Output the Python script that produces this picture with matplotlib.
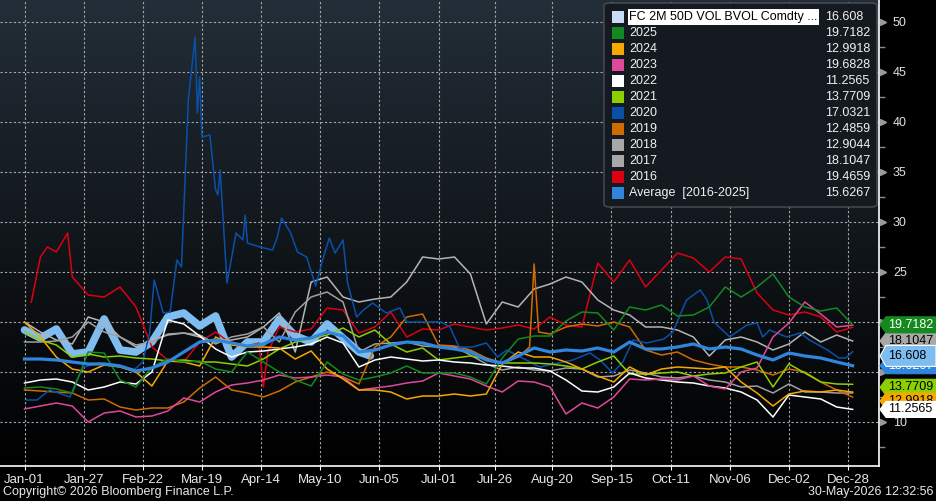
import numpy as np
import matplotlib
matplotlib.use("Agg")
import matplotlib.pyplot as plt
from matplotlib.patches import Rectangle, Polygon, FancyBboxPatch
from matplotlib.colors import LinearSegmentedColormap
from matplotlib.transforms import blended_transform_factory

plt.rcParams['font.family'] = ['Liberation Sans', 'DejaVu Sans']

W, H = 936, 501

# x axis = day of year (leap-year calendar, as on the chart)
days = np.arange(0, 365, 7)
tick_days = [0, 26, 52, 78, 104, 130, 156, 182, 207, 232, 258, 284, 310, 336, 362]
tick_labels = ['Jan-01', 'Jan-27', 'Feb-22', 'Mar-19', 'Apr-14', 'May-10', 'Jun-05', 'Jul-01',
               'Jul-26', 'Aug-20', 'Sep-15', 'Oct-11', 'Nov-06', 'Dec-02', 'Dec-28']
# right axis labels; 15 and 20 sit under the value tags and are not visible
y_ticks = [10, 15, 20, 25, 30, 35, 40, 45, 50]
y_labels = ['10', '', '', '25', '30', '35', '40', '45', '50']

# current year (FC 2M 50D VOL)
current_days = list(range(0, 148, 7)) + [152]
current_vals = [19.2, 18.4, 19.3, 16.8, 17.0, 20.3, 17.2, 17.0, 18.0, 20.5, 20.9, 19.6,
                20.6, 16.5, 18.0, 18.0, 20.3, 18.6, 18.0, 19.8, 18.4, 17.0, 16.608]

v2025 = [13.4, 13.5, 13.3, 12.9, 17.0, 16.9, 14.2, 13.5, 15.5, 16.3,
         16.0, 16.1, 15.3, 15.0, 17.0, 16.0, 15.0, 14.2, 13.6, 16.0,
         14.8, 14.2, 14.5, 14.9, 15.6, 14.9, 14.9, 14.9, 14.5, 13.8,
         16.4, 18.3, 18.6, 18.6, 20.1, 21.0, 20.9, 19.2, 21.5, 21.2,
         21.7, 20.6, 20.7, 21.5, 23.5, 22.5, 23.5, 24.8, 22.5, 21.5,
         21.1, 21.4, 19.72]
v2024 = [20.0, 18.5, 16.5, 15.3, 15.0, 15.7, 15.5, 15.0, 13.6, 16.1,
         16.0, 15.6, 18.5, 17.7, 17.5, 17.5, 17.4, 16.3, 17.1, 15.3,
         14.3, 13.2, 13.2, 13.0, 12.3, 12.6, 12.6, 12.8, 12.6, 12.8,
         15.8, 17.0, 16.5, 16.5, 16.0, 15.3, 14.6, 14.0, 15.5, 14.7,
         15.3, 15.5, 15.4, 15.3, 15.5, 14.0, 12.9, 11.6, 12.8, 13.1,
         13.0, 13.2, 12.99]
v2023 = [11.3, 11.6, 11.9, 11.6, 10.0, 10.9, 11.1, 10.5, 10.6, 11.1,
         12.4, 12.0, 13.0, 13.7, 13.9, 14.2, 14.7, 14.4, 14.5, 14.7,
         14.5, 13.2, 13.4, 13.6, 13.9, 14.1, 14.9, 14.6, 14.3, 13.6,
         13.0, 14.1, 14.0, 13.5, 10.8, 11.9, 11.4, 12.5, 14.3, 14.2,
         14.3, 14.2, 14.6, 13.6, 13.3, 15.0, 15.4, 18.5, 19.9, 22.0,
         20.8, 19.5, 19.68]
v2022 = [13.9, 14.2, 14.3, 14.0, 13.2, 13.5, 14.0, 13.8, 15.0, 20.2,
         19.8, 18.6, 17.3, 16.5, 17.0, 17.1, 17.3, 17.5, 17.8, 18.5,
         17.9, 15.5, 16.2, 16.5, 16.3, 16.1, 16.2, 16.0, 15.9, 15.7,
         15.6, 15.4, 15.4, 15.1, 14.2, 13.1, 13.0, 13.5, 14.9, 14.4,
         14.2, 14.0, 13.9, 13.6, 13.4, 13.0, 12.2, 10.5, 12.7, 12.5,
         12.3, 11.5, 11.26]
v2021 = [19.0, 18.2, 17.7, 16.5, 16.8, 16.5, 16.6, 16.4, 16.3, 16.1,
         16.2, 16.0, 16.0, 15.8, 15.6, 16.3, 17.3, 18.0, 18.3, 18.7,
         19.4, 18.5, 19.2, 17.8, 17.0, 17.4, 16.2, 16.4, 16.6, 16.3,
         15.9, 15.9, 15.9, 15.8, 15.6, 15.3, 16.0, 16.6, 14.8, 14.8,
         14.9, 15.0, 14.6, 14.8, 14.9, 15.5, 16.0, 13.5, 15.8, 14.9,
         14.0, 13.8, 13.77]

days_2020 = [1, 5.5, 11, 20, 23, 26, 33, 41, 48, 52, 55, 57, 61, 64, 67, 69, 72, 75, 76, 77,
             78, 81.5, 84, 85, 86, 89, 93, 96, 97, 98, 103.5, 109, 111, 113, 117, 120, 124, 128,
             131, 134, 136.5, 140, 142, 146, 149, 153, 159, 165, 168, 177, 183, 187, 191, 197,
             203, 208, 212, 226.5, 241, 248.5, 253, 258.5, 263, 267.5, 273.5, 281, 285, 291,
             297, 300, 303, 310, 317.5, 322, 324.5, 327.5, 335, 341, 345, 353, 358, 361, 364]
v2020 = [12.2, 12.2, 13.2, 12.5, 14.2, 15.5, 15.9, 15.7, 15.2, 16.0, 18.9, 24.2, 20.9, 21.0,
         26.2, 25.5, 42.2, 48.5, 40.9, 44.5, 38.5, 38.7, 33.2, 32.7, 35.2, 23.9, 28.9, 28.2,
         30.7, 27.9, 27.5, 27.2, 28.4, 30.4, 28.9, 27.0, 26.5, 23.6, 26.2, 28.4, 26.9, 28.2,
         23.9, 20.5, 21.2, 21.9, 20.9, 21.4, 20.0, 20.0, 20.0, 19.5, 17.5, 17.5, 17.9, 16.5,
         17.2, 15.5, 16.2, 16.9, 16.2, 14.9, 16.0, 18.2, 17.9, 18.3, 19.0, 22.2, 23.2, 22.2,
         20.0, 18.5, 19.7, 19.9, 18.5, 19.2, 18.5, 18.9, 18.2, 17.2, 16.4, 16.4, 17.03]

days_2019 = np.r_[np.arange(0, 218, 7), [222, 224, 226], np.arange(231, 365, 7)]
v2019 = [13.2, 13.1, 13.0, 12.9, 12.2, 12.3, 11.5, 11.2, 11.4, 11.4,
         12.0, 13.4, 14.5, 13.2, 12.9, 12.5, 13.1, 14.0, 14.5, 15.0,
         14.5, 13.8, 17.5, 18.5, 20.5, 20.8, 17.7, 17.6, 17.2, 16.4,
         15.9, 16.5, 17.5, 25.8, 19.0,
         18.8, 19.5, 19.8, 19.6, 20.0, 19.5, 17.2, 16.7, 17.0, 16.2,
         15.8, 15.5, 15.5, 15.2, 14.7, 15.3, 15.0, 14.0, 13.2, 12.49]

v2018 = [18.0, 18.0, 18.1, 18.5, 20.0, 19.0, 18.5, 17.7, 18.0, 18.8,
         18.9, 18.7, 17.8, 18.5, 18.8, 19.5, 18.0, 21.0, 22.5, 23.0,
         22.0, 17.0, 17.8, 17.9, 18.0, 17.6, 17.5, 17.5, 16.7, 15.8,
         15.2, 15.5, 15.2, 15.1, 15.4, 15.3, 14.5, 14.6, 15.2, 14.9,
         14.5, 14.4, 14.6, 14.2, 14.0, 13.5, 13.6, 12.9, 13.8, 13.0,
         13.0, 12.9, 12.90]
v2017 = [20.0, 19.0, 18.2, 17.8, 20.5, 20.0, 18.5, 17.5, 18.2, 18.7,
         18.9, 18.5, 18.0, 18.2, 18.5, 19.5, 20.9, 17.0, 24.0, 24.5,
         22.5, 22.0, 22.3, 22.5, 24.0, 26.5, 26.3, 26.5, 24.8, 19.8,
         22.0, 21.5, 23.3, 23.8, 24.5, 24.0, 22.2, 21.2, 20.7, 19.5,
         19.5, 19.2, 18.5, 16.6, 18.2, 18.5, 18.0, 17.2, 17.8, 19.0,
         18.0, 18.7, 18.10]

days_2016 = [3, 7, 10, 14, 19, 21, 28, 35, 42, 49, 56, 63, 70, 77, 84, 91, 98, 103, 105, 107] \
    + list(range(112, 365, 7))
v2016 = [22.0, 26.5, 27.5, 27.0, 28.9, 24.5, 22.7, 22.5, 23.5, 21.5, 17.5, 16.2, 16.0, 18.0,
         19.0, 17.8, 17.6, 17.9, 13.5, 17.0,
         19.5, 19.0, 19.3, 21.4, 21.2, 18.9, 19.5, 21.0, 18.5, 19.3, 19.2, 19.8, 19.5, 19.2,
         19.4, 19.7, 19.3, 20.5, 19.7, 19.5, 25.9, 24.0, 26.2, 23.5, 25.2, 26.9, 26.4, 25.0,
         26.5, 26.3, 22.9, 21.2, 20.7, 21.0, 20.5, 19.0, 19.47]

v_avg = [16.3, 16.3, 16.2, 16.0, 15.8, 15.8, 15.6, 15.1, 15.4, 16.0,
         17.0, 18.0, 18.2, 17.9, 17.6, 17.8, 18.5, 18.2, 18.4, 19.0,
         18.6, 17.0, 17.2, 17.7, 18.0, 17.9, 17.5, 17.3, 17.0, 16.2,
         15.9, 16.6, 17.4, 17.0, 17.2, 17.1, 17.4, 17.0, 18.0, 17.3,
         17.3, 17.5, 17.8, 17.3, 17.5, 17.3, 16.7, 16.2, 16.9, 16.6,
         16.4, 16.0, 15.63]

legend_names = ['FC 2M 50D VOL BVOL Comdty ...', '2025', '2024', '2023', '2022', '2021', '2020',
                '2019', '2018', '2017', '2016', 'Average  [2016-2025]']
legend_values = ['16.608', '19.7182', '12.9918', '19.6828', '11.2565', '13.7709', '17.0321',
                 '12.4859', '12.9044', '18.1047', '19.4659', '15.6267']
legend_colors = ['#c8ddf5', '#13891f', '#f7a800', '#e0489c', '#ffffff', '#8cd000', '#0a50a8',
                 '#d06b00', '#a8a8a8', '#a8a8a8', '#dd0010', '#2f86dc']

fig = plt.figure(figsize=(W / 100, H / 100), dpi=100, facecolor='black')
ax = fig.add_axes([0, 35 / H, 879 / W, 466 / H])
x0, x1 = -10.77, 375.6
y0, y1 = 5.6, 52.2
ax.set_xlim(x0, x1)
ax.set_ylim(y0, y1)

bg = LinearSegmentedColormap.from_list('bg', ['#232e38', '#000000'])
ax.imshow(np.linspace(0, 1, 256).reshape(-1, 1), cmap=bg, extent=[x0, x1, y0, y1],
          aspect='auto', origin='upper', zorder=0)

ax.set_axisbelow(True)
ax.grid(True, color='#a8a8a8', linestyle=(0, (2, 2)), linewidth=0.8)

# lines
ax.plot(current_days, current_vals, color='#7fbdf0', lw=5.5, solid_capstyle='round', zorder=2)
series = [(days_2016, v2016, '#dd0010'), (days, v2017, '#b4b4b4'), (days, v2018, '#a0a0a0'),
          (days_2019, v2019, '#d06b00'), (days_2020, v2020, '#0a50a8'), (days, v2021, '#8cd000'),
          (days, v2022, '#ffffff'), (days, v2023, '#e0489c'), (days, v2024, '#f7a800'),
          (days, v2025, '#13891f')]
for d, v, c in series:
    ax.plot(d, v, color=c, lw=1.1, zorder=3)
ax.plot(days, v_avg, color='#2f86dc', lw=2.3, zorder=4)

# axes styling
for s in ['left', 'top']:
    ax.spines[s].set_visible(False)
for s in ['bottom', 'right']:
    ax.spines[s].set_color('white')
    ax.spines[s].set_linewidth(1.2)

ax.set_xticks(tick_days)
ax.set_xticklabels(tick_labels, fontsize=9.5, color='#e8e8e8')
ax.tick_params(axis='x', length=3, color='white', pad=3)

ax.yaxis.tick_right()
ax.set_yticks(y_ticks)
ax.set_yticklabels(y_labels, fontsize=9, color='#e0e0e0')
ax.set_yticks(np.arange(7.5, 52, 5), minor=True)
ax.tick_params(axis='y', which='major', length=0, pad=10)
ax.tick_params(axis='y', which='minor', length=4, color='#8a8a8a', width=1)
tri = blended_transform_factory(ax.transAxes, ax.transData)
ax.plot(np.full(len(y_ticks), 1 + 4 / 879), y_ticks, linestyle='none', marker='>',
        markersize=5, color='#9a9a9a', transform=tri, clip_on=False)


def fxy(x, y):
    return x / W, 1 - y / H


def vpy(v):
    return H - ax.transData.transform((0, v))[1]


# legend box
lg = FancyBboxPatch(fxy(604, 207), 273 / W, 204 / H, boxstyle='round,pad=0,rounding_size=0.006',
                    transform=fig.transFigure, facecolor='#151a20', edgecolor='#4a4f56', lw=1, zorder=5)
fig.add_artist(lg)
for i, (nm, val, col) in enumerate(zip(legend_names, legend_values, legend_colors)):
    yc = 17 + 16 * i
    fig.add_artist(Rectangle(fxy(612, yc + 6), 12 / W, 12 / H, transform=fig.transFigure,
                             facecolor=col, edgecolor='none', zorder=6))
    tcol = '#f0f0f0'
    if i == 0:
        fig.add_artist(Rectangle(fxy(628, yc + 8), 191 / W, 16 / H, transform=fig.transFigure,
                                 facecolor='white', edgecolor='none', zorder=6))
        tcol = 'black'
    fig.text(*fxy(629, yc), nm, color=tcol, fontsize=9, va='center', ha='left', zorder=7)
    fig.text(*fxy(825, yc), val, color='#f0f0f0', fontsize=9, va='center', ha='left', zorder=7)

# value tags on the right axis (drawn back to front, each tag covers the previous ones)
tags = [(18.1047, '#a8a8a8', 'black', 0, 16),
        (19.7182, '#13891f', 'white', 0, 16),
        (15.6267, '#2f86dc', 'white', 0, 16),
        (13.7709, '#8cd000', 'black', 3, 16),
        (16.608, '#7fbdf0', 'black', 0, 21),
        (12.9918, '#f7a800', 'black', 9, 16),
        (11.2565, '#ffffff', 'black', 0, 16)]
for k, (val, fc, tc, nudge, hgt) in enumerate(tags):
    yc = vpy(val) + nudge
    h2 = hgt / 2
    pts = [fxy(880, yc), fxy(886, yc - h2), fxy(936, yc - h2), fxy(936, yc + h2), fxy(886, yc + h2)]
    ec = 'white' if hgt > 16 else fc
    z = 10 + 2 * k
    fig.add_artist(Polygon(pts, closed=True, transform=fig.transFigure, facecolor=fc,
                           edgecolor=ec, lw=0.8, zorder=z))
    fig.text(*fxy(888, yc), f'{val:g}', color=tc, fontsize=9, va='center', ha='left', zorder=z + 1)

fig.text(*fxy(3, 492), 'Copyright\u00a9 2026 Bloomberg Finance L.P.', color='#e8e8e8',
         fontsize=9, va='center', ha='left')
fig.text(*fxy(933, 492), '30-May-2026 12:32:56', color='#e8e8e8', fontsize=9,
         va='center', ha='right')

fig.savefig('out.png', dpi=100, facecolor='black')
